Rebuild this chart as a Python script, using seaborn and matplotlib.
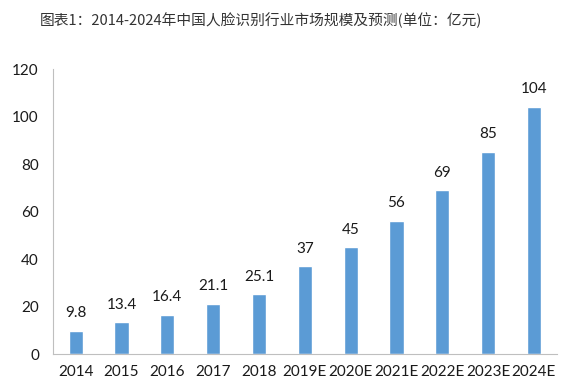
import matplotlib
matplotlib.use("Agg")
import matplotlib.pyplot as plt
import seaborn as sns
import pandas as pd

years = ["2014", "2015", "2016", "2017", "2018", "2019E", "2020E",
         "2021E", "2022E", "2023E", "2024E"]
values = [9.8, 13.4, 16.4, 21.1, 25.1, 37, 45, 56, 69, 85, 104]
labels = ["9.8", "13.4", "16.4", "21.1", "25.1", "37", "45", "56", "69", "85", "104"]
title = "图表1：2014-2024年中国人脸识别行业市场规模及预测(单位：亿元)"

df = pd.DataFrame({"year": years, "value": values})

sns.set_style("white")
plt.rcParams["font.family"] = ["Lato", "Noto Sans CJK SC", "DejaVu Sans"]

fig = plt.figure(figsize=(5.8, 3.9), dpi=100)
ax = fig.add_axes([0.091, 0.092, 0.869, 0.731])

sns.barplot(data=df, x="year", y="value", color="#5B9BD5", width=0.31,
            saturation=1, ax=ax)

# value labels above each bar
for i, (v, t) in enumerate(zip(values, labels)):
    ax.text(i, v + 4.5, t, ha="center", va="bottom", fontsize=11, color="#1a1a1a")

ax.set_ylim(0, 120)
ax.set_yticks(range(0, 121, 20))
ax.set_xlim(-0.5, len(years) - 0.5)
ax.set_xlabel("")
ax.set_ylabel("")
for s in ["top", "right"]:
    ax.spines[s].set_visible(False)
for s in ["left", "bottom"]:
    ax.spines[s].set_color("#BFBFBF")
    ax.spines[s].set_linewidth(0.8)
ax.tick_params(axis="y", length=4, color="#BFBFBF", labelsize=11,
               labelcolor="#1a1a1a", pad=6)
ax.tick_params(axis="x", length=0, labelsize=11, labelcolor="#1a1a1a", pad=8)

fig.text(40 / 580, 1 - 20 / 390, title, ha="left", va="center",
         fontsize=10.6, color="#333333",
         family=["Noto Sans CJK SC", "DejaVu Sans"])

fig.savefig("out.png", dpi=100, facecolor="white")
